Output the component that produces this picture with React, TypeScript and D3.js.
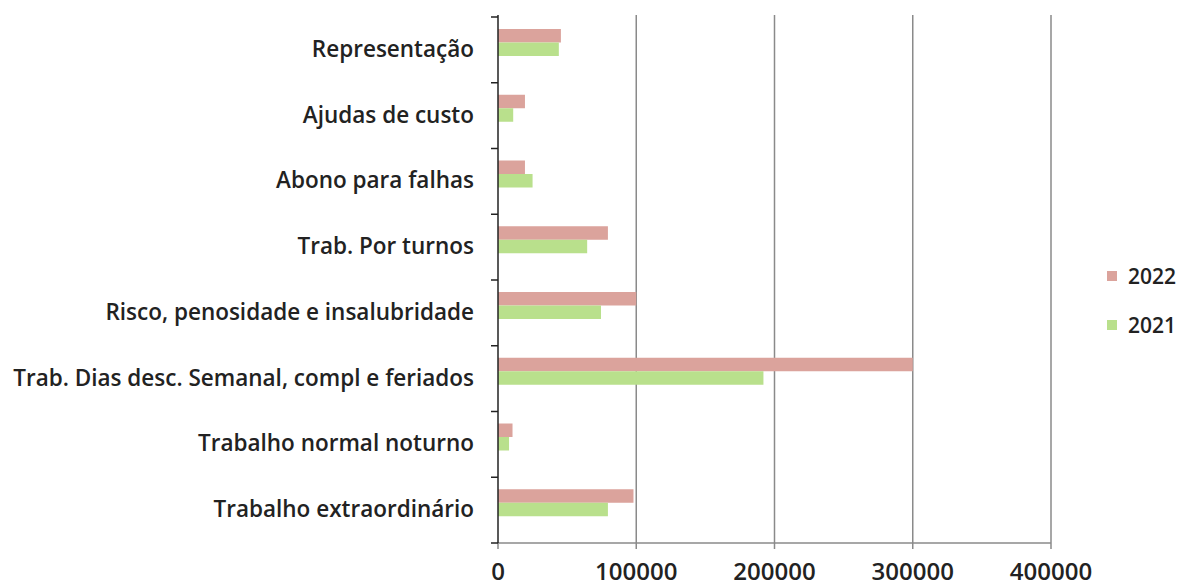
// @ts-nocheck
import * as d3 from "d3";
import React from "react";

const categories = [
  "Representação",
  "Ajudas de custo",
  "Abono para falhas",
  "Trab. Por turnos",
  "Risco, penosidade e insalubridade",
  "Trab. Dias desc. Semanal, compl e feriados",
  "Trabalho normal noturno",
  "Trabalho extraordinário",
];
const series = ["2022", "2021"];
const values2022 = [45500, 19500, 19500, 79500, 100000, 300000, 10500, 98000];
const values2021 = [44000, 11000, 25000, 64500, 74500, 192000, 8000, 79500];
const xTicks = [0, 100000, 200000, 300000, 400000];
const colors = { "2022": "#dba39c", "2021": "#b9e08c" };

const W = 1181;
const H = 587;
const left = 498;
const right = 1051;
const top = 17;
const bottom = 543;
const font = "'Open Sans', 'Noto Sans', sans-serif";

export default function App() {
  const x = d3.scaleLinear([0, 400000], [left, right]);
  const y = d3.scaleBand(categories, [top, bottom]);
  const inner = d3.scaleBand(series, [12, 39]);
  const vals = { "2022": values2022, "2021": values2021 };
  const bounds = d3.range(categories.length + 1).map((i) => top + i * y.step());

  return (
    <svg width={W} height={H} style={{ position: "absolute", left: 0, top: 0 }}>
      <rect width={W} height={H} fill="#fff" />
      {/* grid */}
      {xTicks.slice(1).map((t) => (
        <line key={t} x1={x(t)} x2={x(t)} y1={top - 2} y2={bottom} stroke="#8a8a8a" strokeWidth={1.5} />
      ))}
      {/* bars */}
      {series.map((s) =>
        categories.map((c, i) => (
          <rect
            key={s + c}
            x={x(0)}
            y={y(c) + inner(s)}
            width={x(vals[s][i]) - x(0)}
            height={inner.bandwidth()}
            fill={colors[s]}
          />
        ))
      )}
      {/* bottom axis */}
      <line x1={left} x2={right} y1={bottom} y2={bottom} stroke="#8a8a8a" strokeWidth={1.5} />
      {xTicks.map((t) => (
        <g key={t}>
          <line x1={x(t)} x2={x(t)} y1={bottom} y2={bottom + 6} stroke="#8a8a8a" strokeWidth={1.5} />
          <text x={x(t)} y={580} textAnchor="middle" fontFamily={font} fontSize={24} fontWeight={600} fill="#222">
            {t}
          </text>
        </g>
      ))}
      {/* left axis */}
      <line x1={left} x2={left} y1={top - 2} y2={bottom} stroke="#222" strokeWidth={1.5} />
      {bounds.map((b, i) => (
        <line key={i} x1={left - 7} x2={left} y1={b} y2={b} stroke="#222" strokeWidth={1.5} />
      ))}
      {categories.map((c) => (
        <text
          key={c}
          x={474}
          y={y(c) + y.bandwidth() / 2 + 7}
          textAnchor="end"
          fontFamily={font}
          fontSize={22.5}
          fontWeight={600}
          fill="#222"
        >
          {c}
        </text>
      ))}
      {/* legend */}
      {series.map((s, i) => (
        <g key={s} transform={`translate(1107,${276 + i * 49})`}>
          <rect x={0} y={-5} width={10} height={10} fill={colors[s]} />
          <text x={21} y={8} fontFamily={font} fontSize={21} fontWeight={600} fill="#222">
            {s}
          </text>
        </g>
      ))}
    </svg>
  );
}
